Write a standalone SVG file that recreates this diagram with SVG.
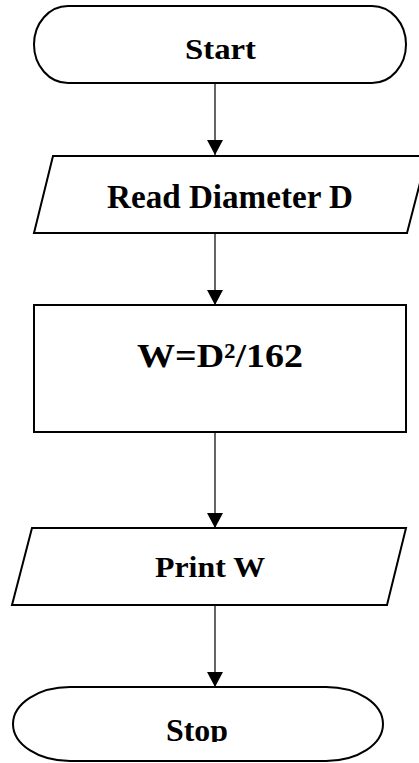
<svg xmlns="http://www.w3.org/2000/svg" width="419" height="763" viewBox="0 0 419 763">
<style>
.shape{fill:#fff;stroke:#000;stroke-width:2}
.lbl{font-family:"Liberation Serif","Times New Roman",serif;font-weight:bold;fill:#000;text-anchor:middle}
.conn{stroke:#333;stroke-width:1.5;fill:none;marker-end:url(#ah)}
</style>
<defs>
<marker id="ah" markerUnits="userSpaceOnUse" markerWidth="16" markerHeight="16" refX="15" refY="8" orient="auto">
<path d="M0,0 L15,8 L0,16 Z" fill="#000"/>
</marker>
<clipPath id="stopclip"><rect x="0" y="0" width="419" height="742"/></clipPath>
</defs>
<rect width="419" height="763" fill="#fff"/>
<g id="connectors">
<line class="conn" x1="215" y1="83" x2="215" y2="155"/>
<line class="conn" x1="215" y1="233" x2="215" y2="305"/>
<line class="conn" x1="215" y1="432" x2="215" y2="528"/>
<line class="conn" x1="215" y1="605" x2="215" y2="687"/>
</g>
<g id="start">
<rect class="shape" x="34" y="6" width="372" height="77" rx="34" ry="38.5"/>
<text class="lbl" x="220.5" y="59" font-size="29" textLength="71" lengthAdjust="spacingAndGlyphs">Start</text>
</g>
<g id="read">
<polygon class="shape" points="53,156 427,156 407,233 34,233"/>
<text class="lbl" x="230" y="208" font-size="34" textLength="246" lengthAdjust="spacingAndGlyphs">Read Diameter D</text>
</g>
<g id="compute">
<rect class="shape" x="34" y="305" width="372" height="127"/>
<text class="lbl" x="220" y="367" font-size="33" textLength="166" lengthAdjust="spacingAndGlyphs">W=D²/162</text>
</g>
<g id="print">
<polygon class="shape" points="32,528 406,528 387,605 12,605"/>
<text class="lbl" x="210" y="577" font-size="30" textLength="110" lengthAdjust="spacingAndGlyphs">Print W</text>
</g>
<g id="stop">
<rect class="shape" x="13" y="687" width="370" height="74" rx="57" ry="37"/>
<text class="lbl" x="197" y="741" font-size="31" textLength="62" lengthAdjust="spacingAndGlyphs" clip-path="url(#stopclip)">Stop</text>
</g>
</svg>
